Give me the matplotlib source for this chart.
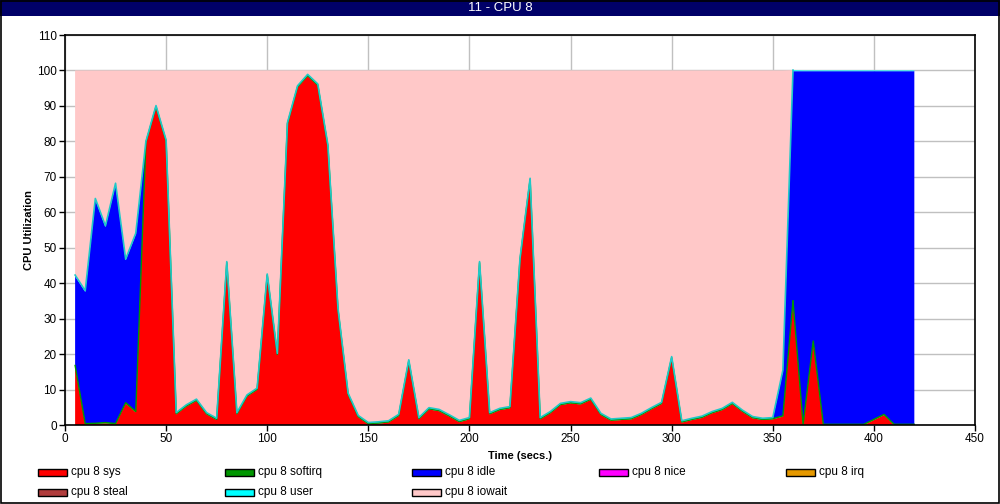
import matplotlib
matplotlib.use("Agg")
import matplotlib.pyplot as plt
from matplotlib.patches import Rectangle

# sample times (secs.)
times = list(range(5, 425, 5))

# cpu 8 sys
sys_vals = [16.6, 0.2, 0.3, 0.5, 0.2, 6.1, 3.6, 79.5, 89.6, 79.9,
            3.0, 5.2, 6.8, 3.0, 1.4, 45.6, 3.0, 8.0, 9.9, 42.1,
            19.7, 84.8, 95.2, 98.4, 95.7, 78.5, 32.4, 8.5, 2.2, 0.2,
            0.4, 0.7, 2.5, 17.9, 1.6, 4.4, 3.9, 2.4, 0.8, 1.6,
            45.6, 3.0, 4.2, 4.7, 46.5, 69.1, 1.6, 3.3, 5.6, 6.1,
            5.8, 7.1, 2.8, 1.2, 1.4, 1.6, 2.8, 4.4, 5.9, 18.8,
            0.7, 1.4, 2.0, 3.3, 4.2, 5.9, 3.7, 1.9, 1.4, 1.6,
            2.4, 34.8, 0.0, 23.5, 0.0, 0.0, 0.0, 0.0, 0.0, 1.4,
            2.8, 0.0, 0.0, 0.0]

# cpu 8 softirq
softirq_vals = [0.2] * 84

# cpu 8 idle
idle_vals = [25.2, 37.2, 63.1, 55.2, 67.5, 40.2, 50.0, 0.0, 0.0, 0.0,
             0.0, 0.0, 0.0, 0.0, 0.0, 0.0, 0.0, 0.0, 0.0, 0.0,
             0.0, 0.0, 0.0, 0.0, 0.0, 0.0, 0.0, 0.0, 0.0, 0.0,
             0.0, 0.0, 0.0, 0.0, 0.0, 0.0, 0.0, 0.0, 0.0, 0.0,
             0.0, 0.0, 0.0, 0.0, 0.0, 0.0, 0.0, 0.0, 0.0, 0.0,
             0.0, 0.0, 0.0, 0.0, 0.0, 0.0, 0.0, 0.0, 0.0, 0.0,
             0.0, 0.0, 0.0, 0.0, 0.0, 0.0, 0.0, 0.0, 0.0, 0.0,
             12.6, 64.8, 99.6, 76.1, 99.6, 99.6, 99.6, 99.6, 99.6, 98.2,
             96.8, 99.6, 99.6, 99.6]

nice_vals = [0.0] * 84
irq_vals = [0.0] * 84
steal_vals = [0.0] * 84

# cpu 8 user
user_vals = [0.3] * 72 + [0.2] * 12

# cpu 8 iowait
iowait_vals = [57.7, 62.1, 36.1, 43.8, 31.8, 53.2, 45.9, 20.0, 9.9, 19.6,
               96.5, 94.3, 92.7, 96.5, 98.1, 53.9, 96.5, 91.5, 89.6, 57.4,
               79.8, 14.7, 4.3, 1.1, 3.8, 21.0, 67.1, 91.0, 97.3, 99.3,
               99.1, 98.8, 97.0, 81.6, 97.9, 95.1, 95.6, 97.1, 98.7, 97.9,
               53.9, 96.5, 95.3, 94.8, 53.0, 30.4, 97.9, 96.2, 93.9, 93.4,
               93.7, 92.4, 96.7, 98.3, 98.1, 97.9, 96.7, 95.1, 93.6, 80.7,
               98.8, 98.1, 97.5, 96.2, 95.3, 93.6, 95.8, 97.6, 98.1, 97.9,
               84.5, 0.0, 0.0, 0.0, 0.0, 0.0, 0.0, 0.0, 0.0, 0.0,
               0.0, 0.0, 0.0, 0.0]

labels = ["cpu 8 sys", "cpu 8 softirq", "cpu 8 idle", "cpu 8 nice",
          "cpu 8 irq", "cpu 8 steal", "cpu 8 user", "cpu 8 iowait"]
colors = ["#ff0000", "#009600", "#0000ff", "#ff00ff",
          "#e69900", "#b03c3c", "#00ffff", "#ffc8c8"]

series = [sys_vals, softirq_vals, idle_vals, nice_vals,
          irq_vals, steal_vals, user_vals, iowait_vals]

fnt = ["Liberation Sans", "DejaVu Sans"]

fig = plt.figure(figsize=(10, 5.04), dpi=100)
ax = fig.add_axes([0.065, 0.1567, 0.91, 0.7738])

ax.stackplot(times, *series, colors=colors, linewidth=0)

# outline lines on top of the thin layers
running = [0.0] * len(times)
tops = []
for s in series:
    running = [a + b for a, b in zip(running, s)]
    tops.append(running)
ax.plot(times[:72], tops[1][:72], color=colors[1], lw=1.0)
ax.plot(times[71:], tops[1][71:], color=colors[1], lw=1.0)
ax.plot(times[:72], tops[6][:72], color="#20c8c8", lw=1.2)

ax.set_xlim(0, 450)
ax.set_ylim(0, 110)
ax.set_xticks(range(0, 451, 50))
ax.set_yticks(range(0, 111, 10))
ax.grid(True, color="#c0c0c0", lw=1.0)
ax.set_axisbelow(True)
ax.tick_params(direction="out", length=4, width=1, labelsize=8.5, pad=2)
for lab in ax.get_xticklabels() + ax.get_yticklabels():
    lab.set_family(fnt)
for sp in ax.spines.values():
    sp.set_color("black")
    sp.set_linewidth(1.2)

ax.set_xlabel("Time (secs.)", fontsize=8, fontweight="bold", labelpad=4, family=fnt)
ax.set_ylabel("CPU Utilization", fontsize=8, fontweight="bold", labelpad=2, family=fnt)

# title bar
fig.add_artist(Rectangle((0, 1 - 16 / 504), 1, 16 / 504, transform=fig.transFigure,
                         facecolor="#000068", edgecolor="none"))
fig.text(0.5, 1 - 8 / 504, "11 - CPU 8", color="white", ha="center", va="center",
         fontsize=9.5, family=fnt)

# figure border
fig.add_artist(Rectangle((0.0005, 0.001), 0.998, 0.997, transform=fig.transFigure,
                         facecolor="none", edgecolor="black", lw=1.2))

# legend
col_x = [38, 225, 412, 599, 786]
row_y = [469, 489]
for i, (lab, col) in enumerate(zip(labels, colors)):
    r, c = divmod(i, 5)
    x0 = col_x[c] / 1000
    y0 = 1 - (row_y[r] + 7) / 504
    fig.add_artist(Rectangle((x0, y0), 29 / 1000, 7 / 504, transform=fig.transFigure,
                             facecolor=col, edgecolor="black", lw=1.0))
    fig.text(x0 + 33 / 1000, y0 + 3.5 / 504, lab, ha="left", va="center",
             fontsize=8.5, family=fnt)

fig.savefig("out.png", dpi=100)
